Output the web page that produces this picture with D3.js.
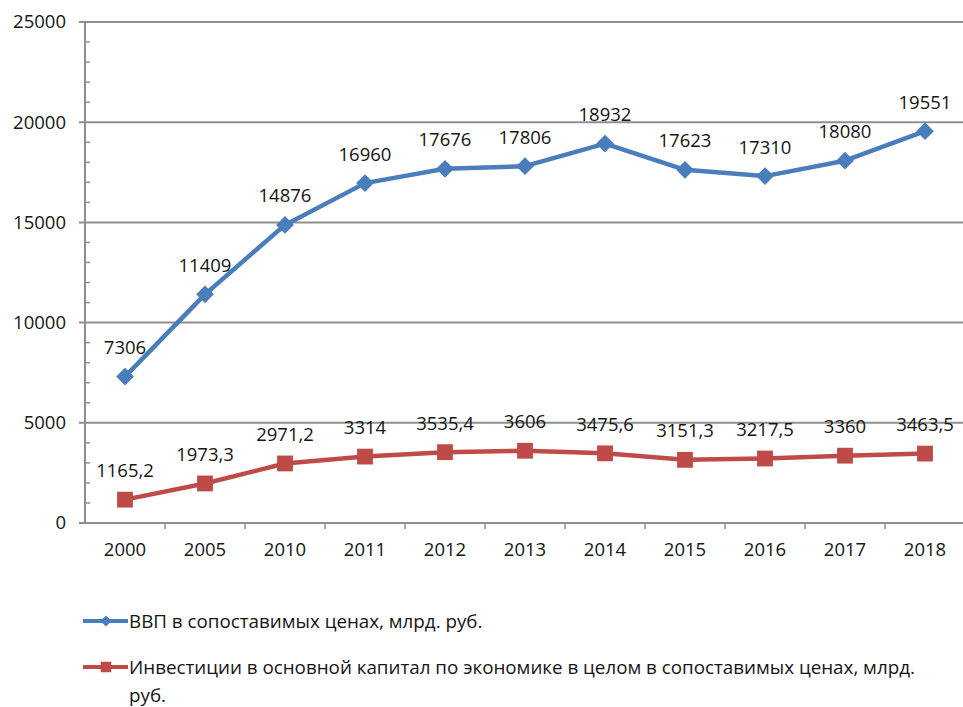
<!DOCTYPE html>
<html><head><meta charset="utf-8">
<script src="https://cdn.jsdelivr.net/npm/d3@7"></script>
<style>
html,body{margin:0;padding:0;background:#fff;}
svg{display:block;font-family:"Open Sans",sans-serif;}
</style></head>
<body>
<svg id="c" width="963" height="707"></svg>
<script>
const years = ["2000","2005","2010","2011","2012","2013","2014","2015","2016","2017","2018"];
const gdp = [7306, 11409, 14876, 16960, 17676, 17806, 18932, 17623, 17310, 18080, 19551];
const inv = [1165.2, 1973.3, 2971.2, 3314, 3535.4, 3606, 3475.6, 3151.3, 3217.5, 3360, 3463.5];
const yTicks = [0, 5000, 10000, 15000, 20000, 25000];
const seriesNames = ["ВВП в сопоставимых ценах, млрд. руб.",
  "Инвестиции в основной капитал по экономике в целом в сопоставимых ценах, млрд.", "руб."];

const svg = d3.select("#c");
const x = d3.scaleBand().domain(years).range([85, 965]);
const y = d3.scaleLinear().domain([0, 25000]).range([523, 22]);
const ru = d3.formatLocale({decimal: ",", thousands: "", grouping: [3], currency: ["", ""]});
const fmt = v => Number.isInteger(v) ? String(v) : ru.format(".1f")(v);
const txtCol = "#151515";

const gridCol = "#8f8f8f";
svg.append("g").selectAll("line").data(yTicks.filter(d => d > 0)).join("line")
  .attr("x1", 79).attr("x2", 963).attr("y1", d => y(d)).attr("y2", d => y(d))
  .attr("stroke", gridCol).attr("stroke-width", 2);
svg.append("g").selectAll("line").data(d3.range(1000, 25000, 1000).filter(d => d % 5000)).join("line")
  .attr("x1", 85).attr("x2", 90).attr("y1", d => y(d)).attr("y2", d => y(d))
  .attr("stroke", gridCol).attr("stroke-width", 1.5);
svg.append("line").attr("x1", 85).attr("x2", 85).attr("y1", y(25000)).attr("y2", y(0))
  .attr("stroke", gridCol).attr("stroke-width", 2);
svg.append("line").attr("x1", 79).attr("x2", 963).attr("y1", y(0)).attr("y2", y(0))
  .attr("stroke", gridCol).attr("stroke-width", 2);
svg.append("g").selectAll("line").data(years.slice(1)).join("line")
  .attr("x1", d => x(d)).attr("x2", d => x(d)).attr("y1", y(0)).attr("y2", y(0) + 6)
  .attr("stroke", gridCol).attr("stroke-width", 1.5);
svg.append("g").selectAll("text").data(yTicks).join("text")
  .attr("x", 66).attr("y", d => y(d)).attr("dy", "0.35em").attr("text-anchor", "end")
  .attr("font-size", 18.5).attr("fill", txtCol).text(d => d);
svg.append("g").selectAll("text").data(years).join("text")
  .attr("x", d => x(d) + x.bandwidth() / 2).attr("y", 550).attr("dy", "0.35em")
  .attr("text-anchor", "middle").attr("font-size", 18.5).attr("fill", txtCol).text(d => d);

const blue = "#4a7dbb", red = "#be4b48";
const diamond = d3.symbolDiamond2 || d3.symbolDiamond;
function series(vals, col, shape) {
  const line = d3.line().x((d, i) => x(years[i]) + x.bandwidth() / 2).y(d => y(d));
  svg.append("path").datum(vals).attr("d", line).attr("fill", "none")
    .attr("stroke", col).attr("stroke-width", 4.5).attr("stroke-linejoin", "round");
  const sym = d3.symbol().type(shape).size(shape === d3.symbolSquare ? 250 : 200);
  svg.append("g").selectAll("path").data(vals).join("path")
    .attr("transform", (d, i) => `translate(${x(years[i]) + x.bandwidth() / 2},${y(d)})`)
    .attr("d", sym).attr("fill", col);
  svg.append("g").selectAll("text").data(vals).join("text")
    .attr("x", (d, i) => x(years[i]) + x.bandwidth() / 2).attr("y", d => y(d) - 29)
    .attr("dy", "0.35em").attr("text-anchor", "middle").attr("font-size", 18.5)
    .attr("fill", txtCol).text(d => fmt(d));
}
series(gdp, blue, diamond);
series(inv, red, d3.symbolSquare);

function legendItem(yy, col, shape) {
  svg.append("line").attr("x1", 83).attr("x2", 128).attr("y1", yy).attr("y2", yy)
    .attr("stroke", col).attr("stroke-width", 4);
  svg.append("path").attr("transform", `translate(106,${yy})`)
    .attr("d", d3.symbol().type(shape).size(shape === d3.symbolSquare ? 110 : 80)).attr("fill", col);
}
legendItem(621, blue, diamond);
legendItem(667, red, d3.symbolSquare);
const lg = svg.append("g").attr("font-size", 18.8).attr("fill", txtCol);
lg.append("text").attr("x", 129).attr("y", 621).attr("dy", "0.35em").text(seriesNames[0]);
lg.append("text").attr("x", 129).attr("y", 667).attr("dy", "0.35em").text(seriesNames[1]);
lg.append("text").attr("x", 129).attr("y", 695).attr("dy", "0.35em").text(seriesNames[2]);
</script>
</body></html>
